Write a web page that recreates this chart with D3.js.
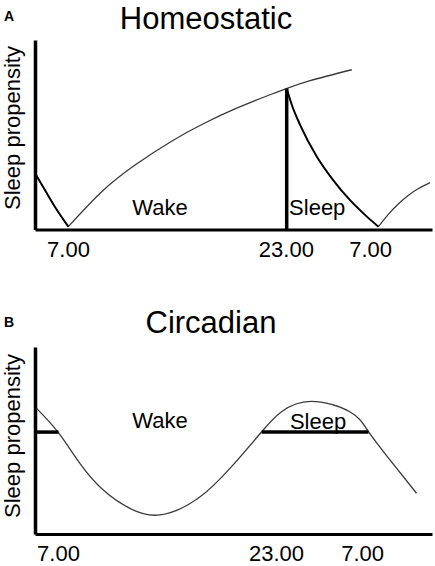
<!DOCTYPE html>
<html>
<head>
<meta charset="utf-8">
<script src="https://cdn.jsdelivr.net/npm/d3@7"></script>
<style>
  body { margin: 0; background: #fff; }
  svg { display: block; font-family: "Liberation Sans", Arial, sans-serif; }
</style>
</head>
<body>
<div class="content"></div>
<script>
//--> Data (x: schematic time units 0-100, y: sleep propensity 0-100)
const homeoSleepStart = [[0, 29.7], [2.5, 20.8], [5.0, 12.0], [8.4, 1.5]];
const homeoWake = [
  [8.4, 1.5], [16.8, 19.9], [25.2, 34.0], [34.5, 46.7], [42.4, 55.8],
  [50.8, 64.0], [59.2, 71.1], [63.4, 74.4], [69.3, 78.5], [79.8, 84.3],
];
const homeoSleep = [
  [63.4, 74.4], [64.7, 65.7], [66.8, 55.1], [71.0, 38.4], [75.1, 26.1],
  [79.3, 15.6], [83.6, 6.8], [86.5, 1.5],
];
const homeoWake2 = [
  [86.5, 1.5], [89.0, 8.0], [91.5, 13.5], [94.0, 18.0], [96.5, 21.5], [99.5, 24.7],
];
const sleepOnset = 63.4;
const sleepOnsetLevel = 74.4;

const circadian = [
  [0.4, 67.2], [5.9, 54.2], [11.3, 37.8], [17.2, 23.5], [23.9, 13.7],
  [31.5, 10.2], [41.1, 19.1], [49.5, 36.0], [57.1, 54.7], [62.1, 65.4],
  [69.5, 70.9], [79.3, 65.4], [84.0, 54.7], [89.4, 39.6], [96.1, 21.8],
];
const circThreshold = 54.5;
const circSleepBands = [[0, 5.9], [57.1, 84.0]];

const tickLabels = ["7.00", "23.00", "7.00"];
const ticksA = [8.3, 63.2, 84.4];
const ticksB = [5.8, 60.7, 82.4];

const labelsA = [
  { text: "Wake", x: 31.5, y: 7.7, anchor: "middle" },
  { text: "Sleep", x: 64.0, y: 7.7, anchor: "start" },
];
const labelsB = [
  { text: "Wake", x: 31.5, y: 56.7, anchor: "middle" },
  { text: "Sleep", x: 71.3, y: 56.1, anchor: "middle" },
];

//--> Set up
const width = 435;
const height = 566;

const svg = d3
  .select(".content")
  .append("svg")
  .attr("width", width)
  .attr("height", height);

const x = d3.scaleLinear().domain([0, 100]).range([35, 432]);

const line = (yScale, curve) =>
  d3
    .line()
    .x(d => x(d[0]))
    .y(d => yScale(d[1]))
    .curve(curve);

function drawPanel(opts) {
  const { y, letter, letterY, title, titleX, titleY, ticks, labelY, pad } = opts;
  const g = svg.append("g");

  g.append("text")
    .attr("x", 4)
    .attr("y", letterY)
    .attr("font-size", 14)
    .attr("font-weight", "bold")
    .text(letter);

  g.append("text")
    .attr("x", titleX)
    .attr("y", titleY)
    .attr("text-anchor", "middle")
    .attr("font-size", 31)
    .text(title);

  g.append("text")
    .attr("transform", `translate(20, ${labelY}) rotate(-90)`)
    .attr("text-anchor", "middle")
    .attr("font-size", 22)
    .text("Sleep propensity");

  // x axis
  const xAxis = g
    .append("g")
    .attr("transform", `translate(0, ${y(0)})`)
    .call(
      d3
        .axisBottom(x)
        .tickValues(ticks)
        .tickFormat((_, i) => tickLabels[i])
        .tickSize(0)
        .tickPadding(pad)
    );
  xAxis.select(".domain").attr("stroke", "#000").attr("stroke-width", 3);
  xAxis
    .selectAll("text")
    .attr("font-size", 22)
    .attr("font-family", "Liberation Sans, Arial, sans-serif")
    .attr("fill", "#000");

  // y axis
  const yAxis = g
    .append("g")
    .attr("transform", `translate(${x(0)}, 0)`)
    .call(d3.axisLeft(y).tickValues([]).tickSizeOuter(0));
  yAxis.select(".domain").attr("stroke", "#000").attr("stroke-width", 3.5);

  return g;
}

//--> Panel A: Homeostatic
const yA = d3.scaleLinear().domain([0, 100]).range([229.5, 40]);
const gA = drawPanel({
  y: yA, letter: "A", letterY: 21, title: "Homeostatic", titleX: 206,
  titleY: 29, ticks: ticksA, labelY: 128, pad: 12,
});

gA.append("line")
  .attr("x1", x(sleepOnset))
  .attr("x2", x(sleepOnset))
  .attr("y1", yA(0))
  .attr("y2", yA(sleepOnsetLevel))
  .attr("stroke", "#000")
  .attr("stroke-width", 3.5);

[homeoWake, homeoWake2].forEach(d =>
  gA.append("path")
    .datum(d)
    .attr("d", line(yA, d3.curveNatural))
    .attr("fill", "none")
    .attr("stroke", "#3a3a3a")
    .attr("stroke-width", 1.3)
);

[homeoSleepStart, homeoSleep].forEach(d =>
  gA.append("path")
    .datum(d)
    .attr("d", line(yA, d3.curveMonotoneX))
    .attr("fill", "none")
    .attr("stroke", "#000")
    .attr("stroke-width", 2)
);

gA.selectAll(".ann")
  .data(labelsA)
  .enter()
  .append("text")
  .attr("x", d => x(d.x))
  .attr("y", d => yA(d.y))
  .attr("text-anchor", d => d.anchor)
  .attr("font-size", 22)
  .text(d => d.text);

//--> Panel B: Circadian
const yB = d3.scaleLinear().domain([0, 100]).range([534, 347]);
const gB = drawPanel({
  y: yB, letter: "B", letterY: 327, title: "Circadian", titleX: 211,
  titleY: 333, ticks: ticksB, labelY: 436, pad: 11.5,
});

gB.append("path")
  .datum(circadian)
  .attr("d", line(yB, d3.curveNatural))
  .attr("fill", "none")
  .attr("stroke", "#3a3a3a")
  .attr("stroke-width", 1.3);

gB.selectAll(".band")
  .data(circSleepBands)
  .enter()
  .append("line")
  .attr("x1", d => x(d[0]))
  .attr("x2", d => x(d[1]))
  .attr("y1", yB(circThreshold))
  .attr("y2", yB(circThreshold))
  .attr("stroke", "#000")
  .attr("stroke-width", 3.5);

gB.selectAll(".ann")
  .data(labelsB)
  .enter()
  .append("text")
  .attr("x", d => x(d.x))
  .attr("y", d => yB(d.y))
  .attr("text-anchor", d => d.anchor)
  .attr("font-size", 22)
  .text(d => d.text);
</script>
</body>
</html>
